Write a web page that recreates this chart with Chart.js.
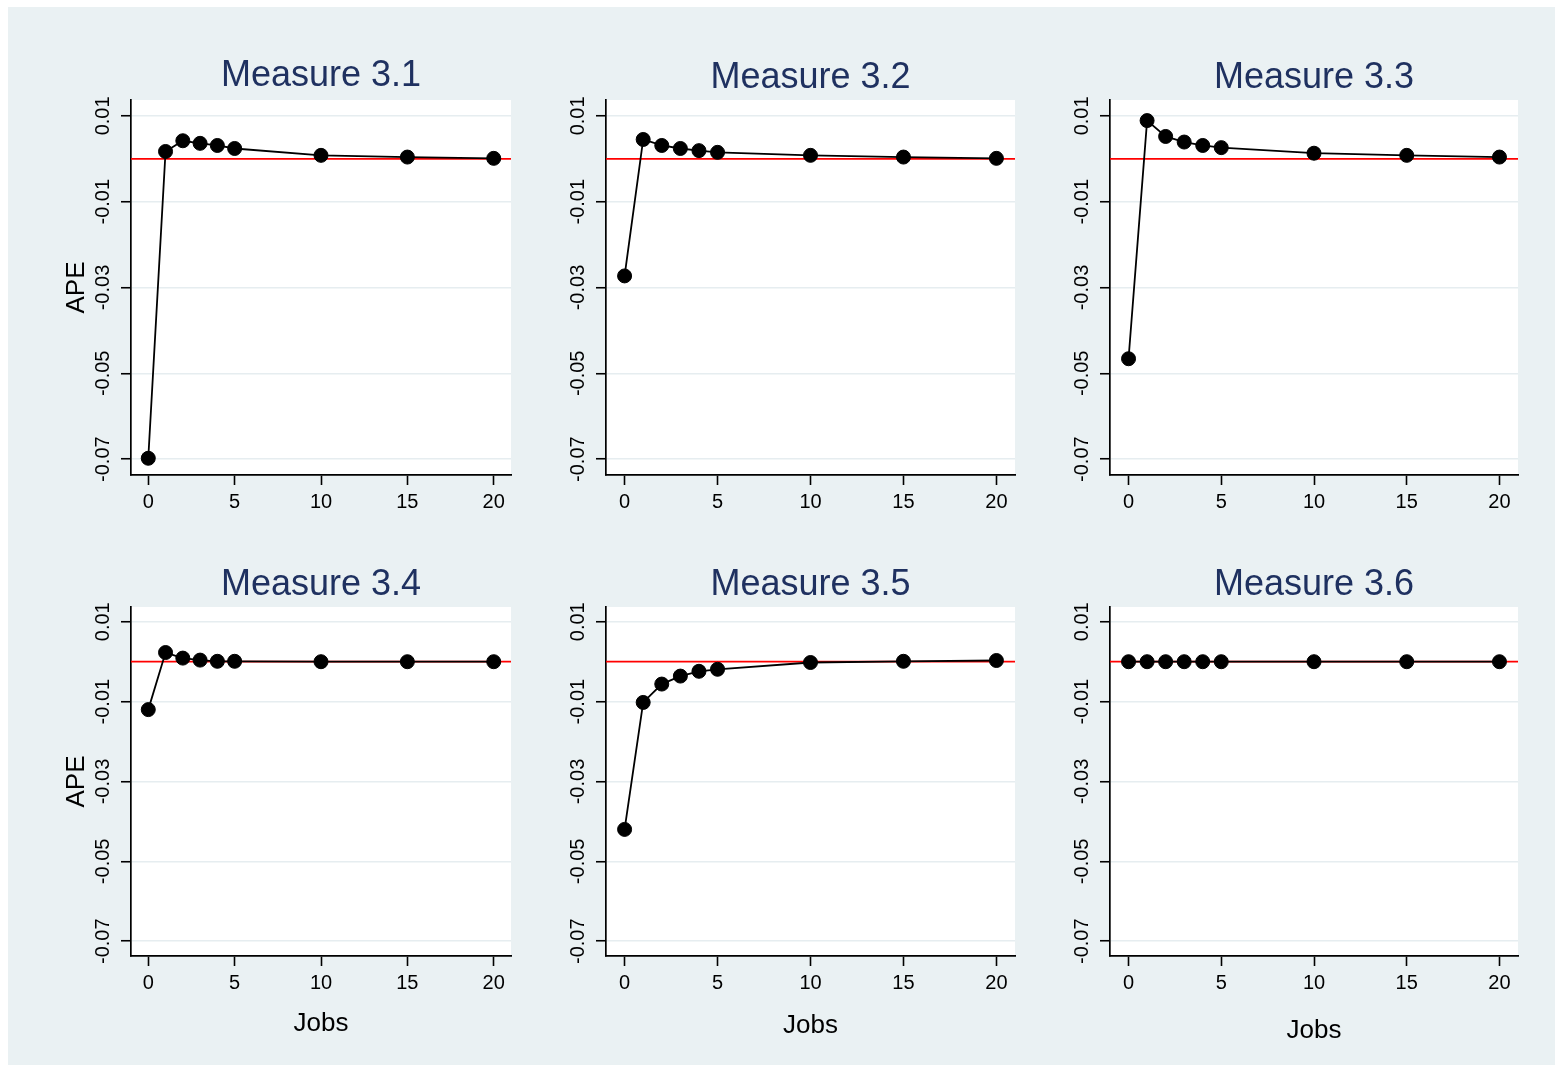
<!DOCTYPE html>
<html><head><meta charset="utf-8">
<script src="https://cdn.jsdelivr.net/npm/chart.js@4.4.1/dist/chart.umd.min.js"></script>
<style>
html,body{margin:0;padding:0;background:#ffffff;width:1555px;height:1067px;overflow:hidden}
#bg{position:absolute;left:8px;top:7px;width:1547px;height:1058px;background:#EAF1F3}
canvas{position:absolute}
</style></head><body><div id="bg"></div>
<script>
// ---------- data ----------
const jobs = [0, 1, 2, 3, 4, 5, 10, 15, 20];
const measure31 = [-0.0698, 0.0017, 0.0042, 0.0036, 0.0031, 0.0024, 0.0008, 0.0004, 0.0001];
const measure32 = [-0.0273, 0.0045, 0.0031, 0.0024, 0.0019, 0.0015, 0.0008, 0.0004, 0.0001];
const measure33 = [-0.0466, 0.0089, 0.0052, 0.0039, 0.0031, 0.0026, 0.0013, 0.0008, 0.0004];
const measure34 = [-0.0120, 0.0023, 0.0009, 0.0004, 0.0001, 0.0001, 0.0000, 0.0000, 0.0000];
const measure35 = [-0.0420, -0.0102, -0.0056, -0.0036, -0.0024, -0.0019, -0.0002, 0.0001, 0.0003];
const measure36 = [0.0000, 0.0000, 0.0000, 0.0000, 0.0000, 0.0000, 0.0000, 0.0000, 0.0000];
const panelTitles = ['Measure 3.1', 'Measure 3.2', 'Measure 3.3', 'Measure 3.4', 'Measure 3.5', 'Measure 3.6'];
const panelSeries = [measure31, measure32, measure33, measure34, measure35, measure36];
const xTicks = [0, 5, 10, 15, 20];
const yTicks = [-0.07, -0.05, -0.03, -0.01, 0.01];
const refX = [-1, 21];
const refY = [0, 0];
const xTitle = 'Jobs';
const yTitle = 'APE';

// ---------- layout ----------
const colLeft = [131, 606, 1110], colRight = [511, 1015, 1518];
const rowTop = [100, 607], rowBottom = [475, 956];
const titleY = [[75.5, 78, 78], [585, 585, 585]];
const jobsY = [1023, 1025, 1030];
const FONT = "'Liberation Sans', Arial, Helvetica, sans-serif";
const titleSize = 36, tickSize = 20, axTitleSize = 26;

const bgPlugin = {
  id: 'plotBg',
  beforeDraw(chart) {
    const a = chart.chartArea, ctx = chart.ctx;
    ctx.save(); ctx.fillStyle = '#ffffff';
    ctx.fillRect(a.left, a.top, a.right - a.left, a.bottom - a.top);
    ctx.restore();
  }
};

panelSeries.forEach((vals, i) => {
  const r = Math.floor(i / 3), c = i % 3;
  const W = c === 0 ? 91 : 60;
  const left = colLeft[c] - W;
  const width = W + (colRight[c] - colLeft[c]) + W;
  const tLH = titleSize * 1.2;
  const top = Math.round(titleY[r][c] - tLH / 2);
  const titlePadB = rowTop[r] - top - tLH;
  const aLH = axTitleSize * 1.2;
  const H = r === 0 ? 50 : Math.round(jobsY[c] + aLH / 2 + 6 - rowBottom[r]);
  const height = Math.round(rowBottom[r] - top + H);

  const cv = document.createElement('canvas');
  cv.width = width; cv.height = height;
  cv.style.left = left + 'px'; cv.style.top = top + 'px';
  cv.style.width = width + 'px'; cv.style.height = height + 'px';
  document.body.appendChild(cv);

  new Chart(cv.getContext('2d'), {
    type: 'line',
    data: {
      datasets: [
        {
          data: jobs.map((x, k) => ({ x: x, y: vals[k] })),
          borderColor: '#000000', backgroundColor: '#000000',
          borderWidth: 1.8, pointRadius: 7, pointBorderWidth: 1,
          pointBorderColor: '#000000', pointBackgroundColor: '#000000', tension: 0, fill: false
        },
        {
          data: refX.map((x, k) => ({ x: x, y: refY[k] })),
          borderColor: '#ff0000', borderWidth: 1.7, pointRadius: 0, fill: false
        }
      ]
    },
    options: {
      responsive: false, animation: false, devicePixelRatio: 1,
      layout: { padding: 0 },
      plugins: {
        legend: { display: false }, tooltip: { enabled: false },
        title: {
          display: true, text: panelTitles[i], color: '#1F3160',
          font: { family: FONT, size: titleSize, weight: 'normal', lineHeight: 1.2 },
          padding: { top: 0, bottom: titlePadB }
        }
      },
      scales: {
        x: {
          type: 'linear', min: refX[0], max: refX[1],
          afterBuildTicks: s => { s.ticks = xTicks.map(v => ({ value: v })); },
          afterFit: s => { s.height = H; },
          ticks: { color: '#000', font: { family: FONT, size: tickSize }, padding: 5, maxRotation: 0, autoSkip: false },
          grid: { drawOnChartArea: false, tickColor: '#000', tickLength: 10, tickWidth: 1.6 },
          border: { display: true, color: '#000', width: 1.7 },
          title: { display: r === 1, text: xTitle, color: '#000',
                   font: { family: FONT, size: axTitleSize, lineHeight: 1.2 }, padding: { top: 0, bottom: 6 } }
        },
        y: {
          type: 'linear', min: -0.0737, max: 0.0137,
          afterBuildTicks: s => { s.ticks = yTicks.map(v => ({ value: v })); },
          afterFit: s => { s.width = W; },
          ticks: { color: '#000', font: { family: FONT, size: tickSize }, padding: -5,
                   minRotation: 90, maxRotation: 90, crossAlign: 'center', autoSkip: false,
                   callback: v => v.toFixed(2) },
          grid: { color: '#E6EDF0', lineWidth: 1.5, tickColor: '#000', tickLength: 10, tickWidth: 1.6 },
          border: { display: true, color: '#000', width: 1.7 },
          title: { display: c === 0, text: yTitle, color: '#000',
                   font: { family: FONT, size: axTitleSize, lineHeight: 1.2 }, padding: { top: 21, bottom: 0 } }
        },
        yRightSpace: {
          type: 'linear', position: 'right', display: true,
          afterFit: s => { s.width = W; },
          ticks: { display: false }, grid: { display: false, drawTicks: false }, border: { display: false }
        }
      }
    },
    plugins: [bgPlugin]
  });
});
</script>
</body></html>
